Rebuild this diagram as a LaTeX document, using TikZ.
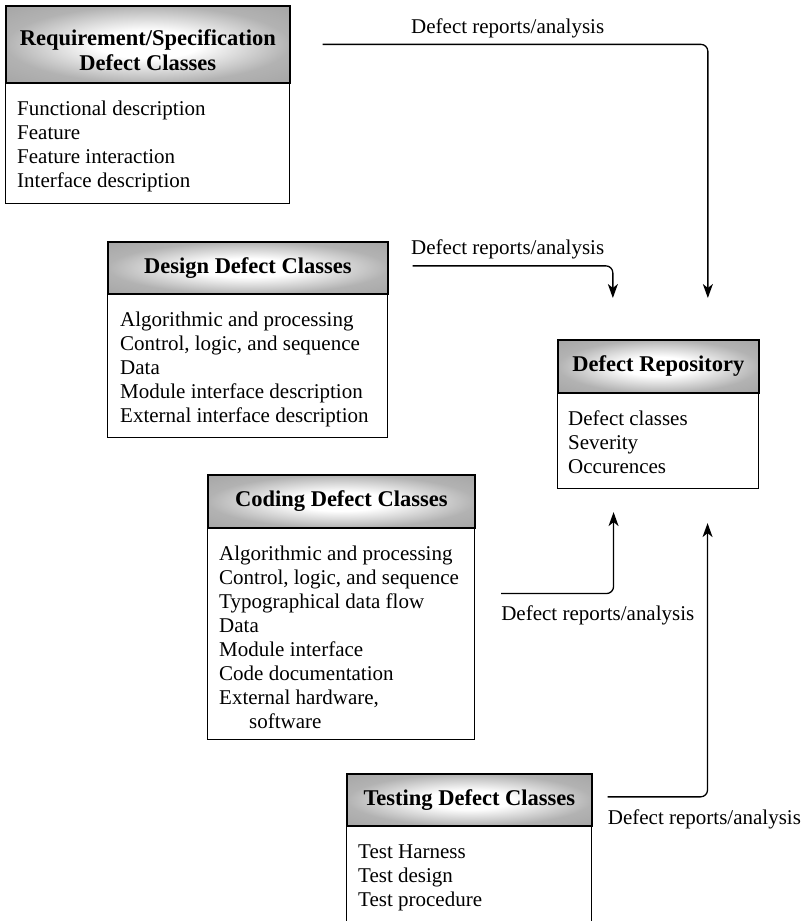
\documentclass[tikz,border=0pt]{standalone}
\usepackage{fontspec}
\setmainfont{Liberation Serif}
\usetikzlibrary{arrows.meta,calc}
% soft header fill: broad white middle fading to grey edges
\pgfdeclareradialshading{hdrshade}{\pgfpoint{0bp}{0bp}}{%
  color(0bp)=(white); color(9bp)=(white); color(25bp)=(black!30); color(50bp)=(black!42)}
\begin{document}
\begin{tikzpicture}[x=1pt,y=-1pt,
  hdr/.style={draw, line width=1.7pt, inner sep=0pt, anchor=north west,
    shading=hdrshade, align=center,
    font=\fontsize{22.5}{25}\selectfont\bfseries},
  bodybox/.style={draw, line width=1.1pt, fill=white, inner sep=0pt, anchor=north west},
  items/.style={anchor=north west, inner sep=0pt, align=left,
    font=\fontsize{21}{24}\selectfont},
  lbl/.style={anchor=west, inner sep=0pt, font=\fontsize{21}{24}\selectfont},
  flow/.style={line width=1.3pt, rounded corners=7pt,
    -{Stealth[length=14pt,width=10pt,inset=4pt]}}]

\clip (0,0) rectangle (804,921);
\fill[white] (0,0) rectangle (804,921);

% Requirement/specification classes
\node[bodybox, minimum width=284, minimum height=121] (reqB) at (5,82) {};
\node[hdr, minimum width=284, minimum height=77] (reqH) at (5,5)
  {\rule{0pt}{28pt}Requirement/Specification\\Defect Classes};
\node[items] (reqT) at ($(reqB.north west)+(12,16)$)
  {\strut Functional description\\Feature\\Feature interaction\\Interface description};

% Design classes
\node[bodybox, minimum width=280, minimum height=144] (desB) at (107,293) {};
\node[hdr, minimum width=280, minimum height=52] (desH) at (107,241)
  {Design Defect Classes};
\node[items] (desT) at ($(desB.north west)+(13,16)$)
  {\strut Algorithmic and processing\\Control, logic, and sequence\\Data\\
   Module interface description\\External interface description};

% Defect repository
\node[bodybox, minimum width=201, minimum height=96] (repB) at (557,392) {};
\node[hdr, minimum width=201, minimum height=53] (repH) at (557,339)
  {Defect Repository};
\node[items] (repT) at ($(repB.north west)+(11,16)$)
  {\strut Defect classes\\Severity\\Occurences};

% Coding classes
\node[bodybox, minimum width=267, minimum height=212] (codB) at (207,527) {};
\node[hdr, minimum width=267, minimum height=53] (codH) at (207,474)
  {Coding Defect Classes};
\node[items] (codT) at ($(codB.north west)+(12,16)$)
  {\strut Algorithmic and processing\\Control, logic, and sequence\\
   Typographical data flow\\Data\\Module interface\\Code documentation\\
   External hardware,\\\hspace*{30pt}software};

% Testing classes (runs past the lower edge)
\node[bodybox, minimum width=245, minimum height=140] (tstB) at (346,825) {};
\node[hdr, minimum width=245, minimum height=52] (tstH) at (346,773)
  {Testing Defect Classes};
\node[items] (tstT) at ($(tstB.north west)+(12,16)$)
  {\strut Test Harness\\Test design\\Test procedure};

% Report flows into the repository
\coordinate (a1s) at ($(reqH.east)+(32,0)$);
\coordinate (a1e) at ($(repH.north)+(49.5,-41)$);
\coordinate (a2s) at ($(desH.east)+(24,-2)$);
\coordinate (a2e) at ($(repH.north)+(-45.5,-41)$);
\coordinate (a3s) at ($(codB.east)+(26,-40)$);
\coordinate (a3e) at ($(repB.south)+(-44.5,23)$);
\coordinate (a4s) at ($(tstH.east)+(15,-3)$);
\coordinate (a4e) at ($(repB.south)+(49.5,34)$);

\draw[flow] (a1s) -| (a1e);
\draw[flow] (a2s) -| (a2e);
\draw[flow] (a3s) -| (a3e);
\draw[flow] (a4s) -| (a4e);

\node[lbl] (l1) at (411,28) {Defect reports/analysis};
\node[lbl] (l2) at (411,249) {Defect reports/analysis};
\node[lbl] (l3) at ($(a3s)+(0,22)$) {Defect reports/analysis};
\node[lbl] (l4) at ($(a4s)+(0,23)$) {Defect reports/analysis};
\end{tikzpicture}
\end{document}
